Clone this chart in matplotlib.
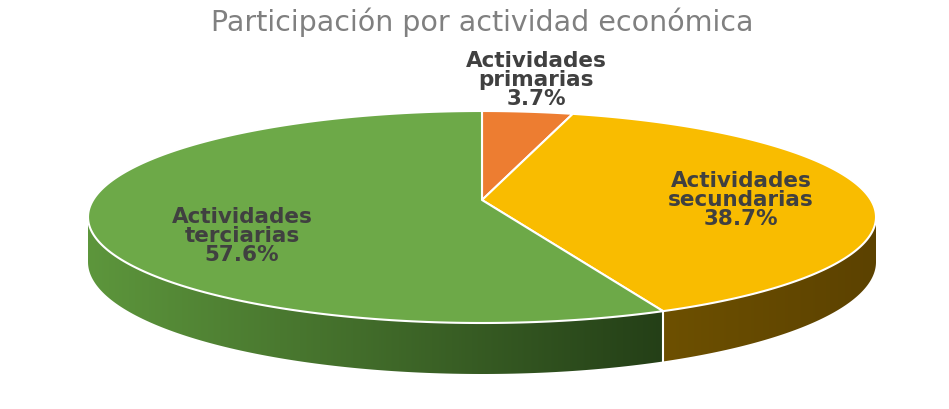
import numpy as np
import matplotlib
matplotlib.use('agg')
import matplotlib.pyplot as plt
from matplotlib.patches import Polygon
from matplotlib.colors import LinearSegmentedColormap

# datos
categorias = ['Actividades\nprimarias', 'Actividades\nsecundarias', 'Actividades\nterciarias']
porcentajes = [3.7, 38.7, 57.6]
colores_sup = ['#ED7D31', '#F9BC00', '#6DA948']
colores_lado = [('#8a4718', '#6a3510'), ('#6d5000', '#5c4200'), ('#5d963c', '#243f17')]
pos_etiquetas = [(536, 80), (741, 200), (242, 236)]

W, H = 949, 409
fig = plt.figure(figsize=(W / 100, H / 100), dpi=100)
ax = fig.add_axes([0, 0, 1, 1])

# geometria del pastel 3d (pixeles)
cx, cy = 482, 217
a, b = 394, 106
apex = (482, 200)


def borde(t):
    t = np.radians(t)
    return cx + a * np.sin(t), cy - b * np.cos(t)


def grosor(t):
    return 45 + 6 * np.clip(-np.cos(np.radians(t)), 0, 1)


limites = np.concatenate([[0], np.cumsum(porcentajes)]) / 100 * 360

# lados visibles (mitad frontal), degradado de izquierda a derecha
for i in range(len(porcentajes)):
    lo, hi = max(limites[i], 90), min(limites[i + 1], 270)
    if lo >= hi:
        continue
    t = np.linspace(lo, hi, 120)
    xs, ys = borde(t)
    yb = ys + grosor(t)
    pts = np.column_stack([np.concatenate([xs, xs[::-1]]), np.concatenate([ys, yb[::-1]])])
    poly = Polygon(pts, closed=True, facecolor='none', edgecolor='none')
    ax.add_patch(poly)
    cmap = LinearSegmentedColormap.from_list('lado%d' % i, list(colores_lado[i]))
    grad = np.linspace(0, 1, 256).reshape(1, -1)
    im = ax.imshow(grad, cmap=cmap, aspect='auto',
                   extent=[xs.min(), xs.max(), yb.max() + 2, ys.min() - 2])
    im.set_clip_path(poly)

# lineas divisorias en el lado
for tb in limites:
    if 90 < tb < 270:
        x0, y0 = borde(tb)
        ax.plot([x0, x0], [y0, y0 + grosor(tb)], color='white', lw=1.5)

# cara superior
for i in range(len(porcentajes)):
    t = np.linspace(limites[i], limites[i + 1], 200)
    xs, ys = borde(t)
    pts = np.column_stack([np.concatenate([[apex[0]], xs]), np.concatenate([[apex[1]], ys])])
    ax.add_patch(Polygon(pts, closed=True, facecolor=colores_sup[i],
                         edgecolor='white', lw=1.5, joinstyle='round'))

for i, (x, y) in enumerate(pos_etiquetas):
    ax.text(x, y, '%s\n%.1f%%' % (categorias[i], porcentajes[i]), ha='center', va='center',
            fontsize=15.5, fontweight='bold', color='#404040', linespacing=0.95)

ax.set_xlim(0, W)
ax.set_ylim(H, 0)
ax.axis('off')

fig.text(482 / W, 1 - 22 / H, 'Participación por actividad económica', ha='center', va='center',
         fontsize=20.5, color='#808080')

fig.savefig('out.png', dpi=100, facecolor='white')
